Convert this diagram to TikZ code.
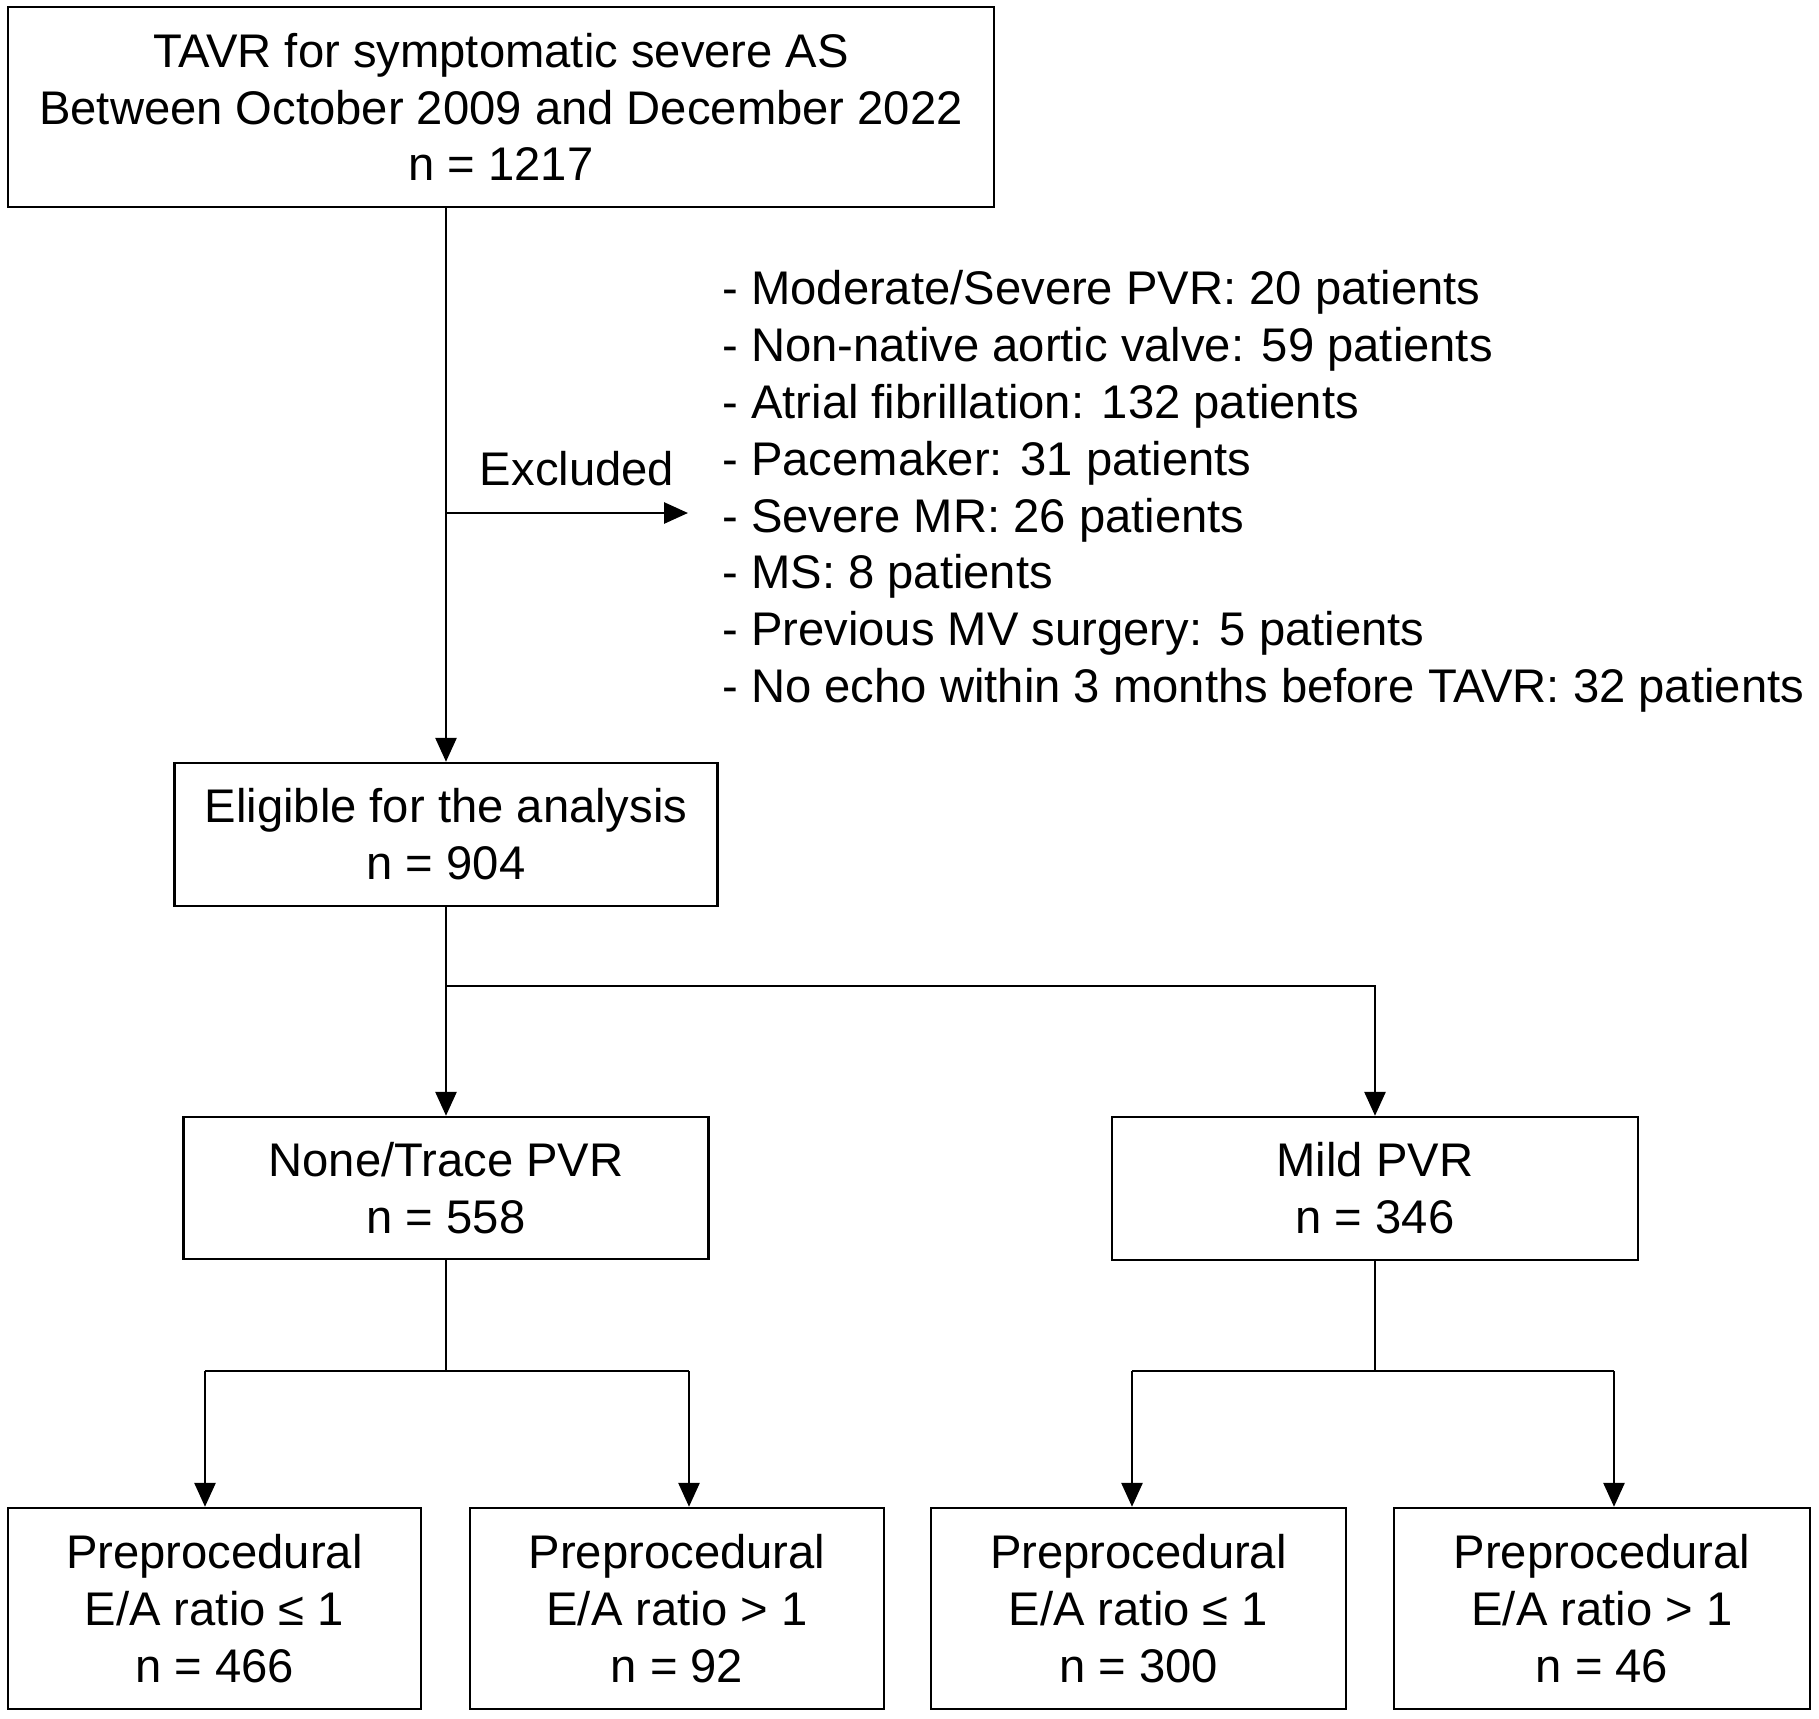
\documentclass[tikz,border=0pt]{standalone}
\usepackage{fontspec}
\setmainfont{Liberation Sans}
\usetikzlibrary{arrows.meta}
\begin{document}
\begin{tikzpicture}[x=0.5pt,y=-0.5pt,
  every node/.style={font=\fontsize{23.6}{28.4}\selectfont},
  box/.style={draw, line width=1.2pt, align=center, inner sep=0pt},
  conn/.style={line width=1.4pt},
  arr/.style={line width=1.4pt, -{Triangle[length=12pt,width=10.5pt]}}]
\useasboundingbox (0,0) rectangle (1819,1718);
% boxes
\node[box, minimum width=493pt, minimum height=100pt] (top) at (501,107)
  {TAVR for symptomatic severe AS\\Between October 2009 and December 2022\\n = 1217};
\node[box, minimum width=271.5pt, minimum height=71.5pt] (elig) at (446,834.5)
  {Eligible for the analysis\\n = 904};
\node[box, minimum width=262.5pt, minimum height=71pt] (none) at (446,1188)
  {None/Trace PVR\\n = 558};
\node[box, minimum width=263pt, minimum height=71.5pt] (mild) at (1375,1188.5)
  {Mild PVR\\n = 346};
\node[box, minimum width=206.5pt, minimum height=100.5pt] (p1) at (214.5,1608.5)
  {Preprocedural\\E/A ratio ≤ 1\\n = 466};
\node[box, minimum width=207pt, minimum height=100.5pt] (p2) at (677,1608.5)
  {Preprocedural\\E/A ratio > 1\\n = 92};
\node[box, minimum width=207.5pt, minimum height=100.5pt] (p3) at (1138.5,1608.5)
  {Preprocedural\\E/A ratio ≤ 1\\n = 300};
\node[box, minimum width=208pt, minimum height=100.5pt] (p4) at (1602,1608.5)
  {Preprocedural\\E/A ratio > 1\\n = 46};
% exclusion list
\node[align=left, inner sep=0pt, anchor=west] (list) at (722,491.5)
  {- Moderate/Severe PVR: 20 patients\\
   - Non-native aortic valve: 59 patients\\
   - Atrial fibrillation: 132 patients\\
   - Pacemaker: 31 patients\\
   - Severe MR: 26 patients\\
   - MS: 8 patients\\
   - Previous MV surgery: 5 patients\\
   - No echo within 3 months before TAVR: 32 patients};
% connectors
\draw[arr] (top.south -| elig.north) -- (elig.north);
\coordinate (ex) at (446,513);
\draw[arr, shorten >=17pt] (ex) -- (ex -| list.west);
\node[anchor=base] (exlab) at (577,485) {Excluded};
\coordinate (b1) at (446,986);
\draw[arr] (elig.south) -- (none.north);
\draw[arr] (b1) -| (mild.north);
% sub-branches
\coordinate (j1) at (446,1371);
\coordinate (a1) at (205,1371);
\coordinate (a2) at (689,1371);
\draw[conn] (none.south) -- (j1);
\draw[conn] (a1) -- (a2);
\draw[arr] (a1) -- (a1 |- p1.north);
\draw[arr] (a2) -- (a2 |- p2.north);
\coordinate (j2) at (1375,1371);
\coordinate (a3) at (1132,1371);
\coordinate (a4) at (1614,1371);
\draw[conn] (mild.south) -- (j2);
\draw[conn] (a3) -- (a4);
\draw[arr] (a3) -- (a3 |- p3.north);
\draw[arr] (a4) -- (a4 |- p4.north);
\end{tikzpicture}
\end{document}
